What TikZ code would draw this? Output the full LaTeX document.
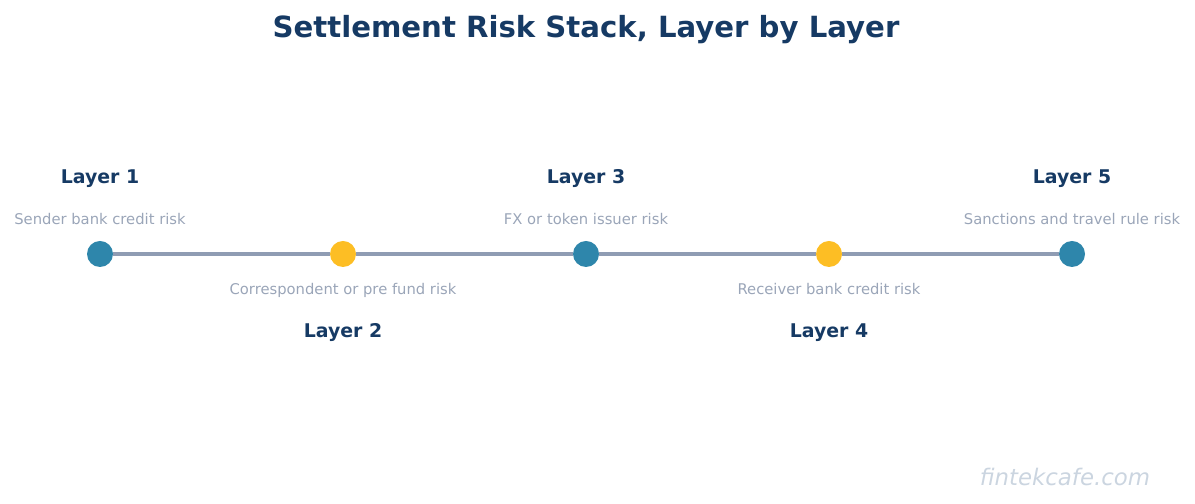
\documentclass[tikz,border=0pt]{standalone}
\usepackage{fontspec}
\setmainfont{DejaVu Sans}
\definecolor{navy}{HTML}{163A64}
\definecolor{teal}{HTML}{2E86AB}
\definecolor{gold}{HTML}{FDBE24}
\definecolor{rail}{HTML}{8F9CB3}
\definecolor{muted}{HTML}{9AA5B8}
\definecolor{mark}{HTML}{CBD5E0}
\tikzset{
  dot/.style={circle, minimum size=0.52cm, inner sep=0pt},
  layer/.style={font=\fontsize{10.75}{12}\selectfont\bfseries, text=navy},
  risk/.style={font=\fontsize{8.4}{10}\selectfont, text=muted, text height=1.6ex, text depth=0.4ex}
}
\begin{document}
\begin{tikzpicture}

% Canvas
\useasboundingbox (0,0) rectangle (23.9,10.08);
\node[font=\fontsize{16.6}{18}\selectfont\bfseries, text=navy] (title) at (11.72,9.48) {Settlement Risk Stack, Layer by Layer};

% Dots on the rail
\node[dot, fill=teal] (d1) at (2.0,5.0) {};
\node[dot, fill=gold] (d2) at (6.86,5.0) {};
\node[dot, fill=teal] (d3) at (11.72,5.0) {};
\node[dot, fill=gold] (d4) at (16.58,5.0) {};
\node[dot, fill=teal] (d5) at (21.44,5.0) {};

% Rail
\draw[rail, line width=2.2pt] (d1) -- (d2) -- (d3) -- (d4) -- (d5);

% Labels above
\node[layer] (l1) at (2.0,6.5) {Layer 1};
\node[risk] (r1) at (2.0,5.7) {Sender bank credit risk};
\node[layer] (l3) at (11.72,6.5) {Layer 3};
\node[risk] (r3) at (11.72,5.7) {FX or token issuer risk};
\node[layer] (l5) at (21.44,6.5) {Layer 5};
\node[risk] (r5) at (21.44,5.7) {Sanctions and travel rule risk};

% Labels below
\node[risk] (r2) at (6.86,4.3) {Correspondent or pre fund risk};
\node[layer] (l2) at (6.86,3.42) {Layer 2};
\node[risk] (r4) at (16.58,4.3) {Receiver bank credit risk};
\node[layer] (l4) at (16.58,3.42) {Layer 4};

% Watermark
\node[font=\fontsize{13}{14}\selectfont\itshape, text=mark] (wm) at (21.3,0.54) {fintekcafe.com};

\end{tikzpicture}
\end{document}
